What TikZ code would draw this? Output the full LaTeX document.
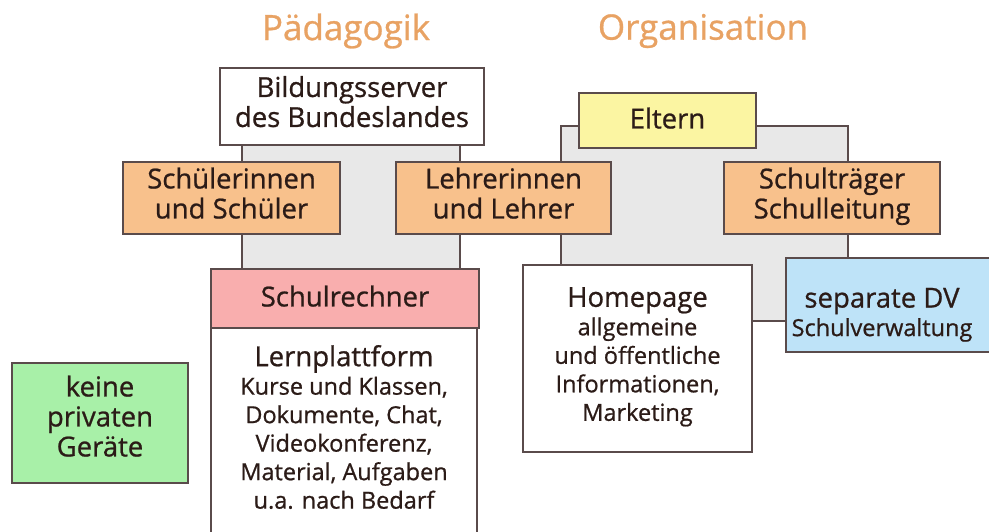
\documentclass[tikz,border=0pt]{standalone}
\usepackage{fontspec}
\setmainfont{Open Sans}[FakeBold=0.8]
\definecolor{boxline}{HTML}{5A4B4B}
\definecolor{txt}{HTML}{2B1B17}
\definecolor{orangefill}{HTML}{F8C18C}
\definecolor{pinkfill}{HTML}{F9AEAE}
\definecolor{yellowfill}{HTML}{FBF5A2}
\definecolor{bluefill}{HTML}{BEE3F8}
\definecolor{greenfill}{HTML}{A8F0A8}
\definecolor{grayfill}{HTML}{E8E8E8}
\definecolor{titlecol}{HTML}{E8A263}
\tikzset{
  box/.style={draw=boxline, line width=1.2pt, align=center, inner sep=0pt, text=txt,
    text depth=10pt, font=\fontsize{27.5}{30}\selectfont},
  onebox/.style={box, text depth=5pt},
  smallbox/.style={box, text depth=0pt, font=\fontsize{23.5}{28.5}\selectfont},
  title/.style={text=titlecol, font=\fontsize{35}{40}\selectfont},
  grayarea/.style={draw=boxline, line width=1.2pt, fill=grayfill}
}
\begin{document}
\begin{tikzpicture}[x=1pt,y=-1pt]
\useasboundingbox (0,0) rectangle (989,531);
\clip (0,0) rectangle (989,531);
% titles
\node[title] (tpaed) at (346,31) {Pädagogik};
\node[title] (torg) at (703,31) {Organisation};
% gray areas
\draw[grayarea] (242,140) rectangle (460,275);
\draw[grayarea] (561,126) rectangle (848,321);
% boxes
\node[box, fill=white, minimum width=264pt, minimum height=77pt] (bild) at (352,106.5) {Bildungsserver\\des Bundeslandes};
\node[box, fill=orangefill, minimum width=217pt, minimum height=72pt] (schueler) at (231.5,198) {Schülerinnen\\und Schüler};
\node[box, fill=orangefill, minimum width=215pt, minimum height=72pt] (lehrer) at (503.5,198) {Lehrerinnen\\und Lehrer};
\node[onebox, fill=yellowfill, minimum width=177pt, minimum height=55pt] (eltern) at (667.5,120.5) {Eltern};
\node[box, fill=orangefill, minimum width=216pt, minimum height=72pt] (traeger) at (832,198) {Schulträger\\Schulleitung};
\node[box, fill=white, minimum width=266pt, minimum height=220pt] (lern) at (344,438) {};
\node[onebox, fill=pinkfill, minimum width=268pt, minimum height=59pt] (rechner) at (345,298.5) {Schulrechner};
\node[smallbox, draw=none, anchor=north] (lerntext) at (344,344.5) {{\fontsize{27.5}{28.5}\selectfont Lernplattform}\\Kurse und Klassen,\\Dokumente, Chat,\\Videokonferenz,\\Material, Aufgaben\\u.a. nach Bedarf};
\node[smallbox, fill=white, minimum width=229pt, minimum height=187pt] (home) at (637.5,358.5) {};
\node[smallbox, draw=none] (hometext) at (637.5,354) {{\fontsize{27.5}{28.5}\selectfont Homepage}\\allgemeine\\und öffentliche\\Informationen,\\Marketing};
\node[box, fill=bluefill, minimum width=214pt, minimum height=94pt] (dv) at (893,305) {};
\node[smallbox, draw=none] (dvtext) at (882,312) {{\fontsize{27.5}{30}\selectfont separate DV}\\Schulverwaltung};
\node[box, text depth=14pt, fill=greenfill, minimum width=176pt, minimum height=120pt] (privat) at (100,423) {keine\\privaten\\Geräte};
\end{tikzpicture}
\end{document}
